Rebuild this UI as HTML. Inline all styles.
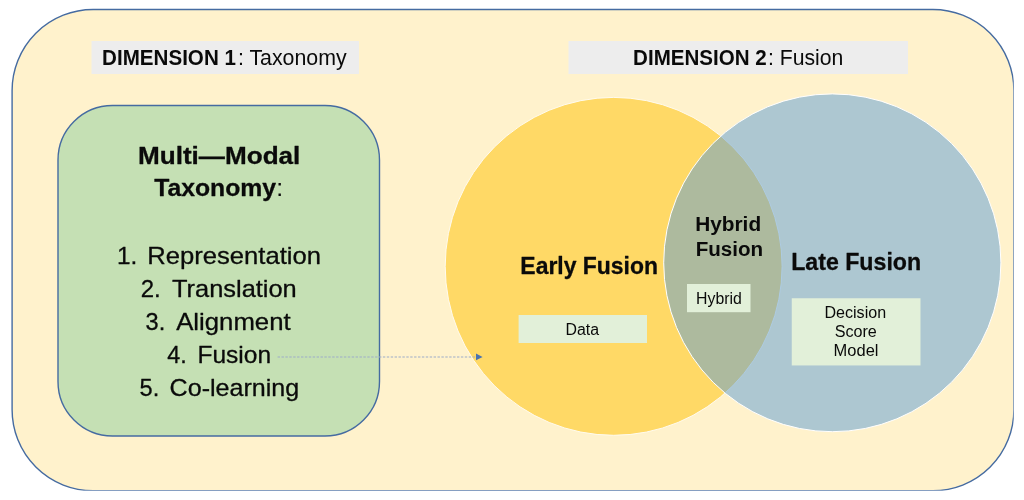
<!DOCTYPE html>
<html lang="en">
<head>
<meta charset="utf-8">
<title>Multi-Modal Taxonomy and Fusion</title>
<style>
html,body{margin:0;padding:0;background:#ffffff;}
body{width:1024px;height:500px;overflow:hidden;}
svg{display:block;font-family:"Liberation Sans",sans-serif;}
svg text{fill:#0a0a0a;white-space:pre;}
svg{will-change:transform;}
svg text.cal{stroke:#0a0a0a;stroke-width:0.3px;stroke-linejoin:round;}
</style>
</head>
<body>
<svg width="1024" height="500" viewBox="0 0 1024 500" role="img" aria-label="Dimension 1: Taxonomy and Dimension 2: Fusion diagram">
<rect x="12.1" y="9.5" width="1001.8" height="481.3" rx="81" ry="81" fill="#fff2cc" stroke="#456ba1" stroke-width="1.4"/>
<rect x="1013.75" y="0" width="11" height="500" fill="#ffffff"/>
<rect x="0" y="490.65" width="1024" height="10" fill="#ffffff"/>
<rect x="91.5" y="41" width="267.5" height="33" fill="#ededed"/>
<rect x="568.5" y="41" width="339.5" height="33" fill="#ededed"/>
<rect x="58" y="105.5" width="321.5" height="330.5" rx="54.5" ry="54.5" fill="#c5e0b4" stroke="#456ba1" stroke-width="1.4"/>
<ellipse cx="613.65" cy="266.35" rx="168.45" ry="168.95" fill="#ffd966" stroke="#fffbee" stroke-width="1"/>
<ellipse cx="832.3" cy="262.8" rx="168.6" ry="168.9" fill="#5b9bd5" fill-opacity="0.5" stroke="#ffffff" stroke-width="1"/>
<line x1="277.6" y1="357" x2="476" y2="357" stroke="#9dacc7" stroke-width="1.2" stroke-dasharray="2.4 1.5"/>
<path d="M476 353.5 L482.6 356.9 L476 360.3 Z" fill="#4a72b0"/>
<rect x="518.6" y="315" width="128.4" height="28" fill="#e2f0d9"/>
<rect x="687" y="284" width="63.5" height="28.2" fill="#e2f0d9"/>
<rect x="791.75" y="298.25" width="128.75" height="67.2" fill="#e2f0d9"/>
<g class="labels">
<text y="65" font-size="21.33"><tspan x="102.11" font-weight="bold" textLength="133.80" lengthAdjust="spacingAndGlyphs">DIMENSION 1</tspan><tspan x="237.94" textLength="108.66" lengthAdjust="spacingAndGlyphs">: Taxonomy</tspan></text>
<text y="65" font-size="21.33"><tspan x="633.12" font-weight="bold" textLength="133.60" lengthAdjust="spacingAndGlyphs">DIMENSION 2</tspan><tspan x="768.05" textLength="75.34" lengthAdjust="spacingAndGlyphs">: Fusion</tspan></text>
<text y="164" font-size="24" class="cal"><tspan x="137.97" font-weight="bold" textLength="162.37" lengthAdjust="spacingAndGlyphs">Multi—Modal</tspan></text>
<text y="196" font-size="24" class="cal"><tspan x="154.20" font-weight="bold" textLength="121.94" lengthAdjust="spacingAndGlyphs">Taxonomy</tspan><tspan x="276.37" stroke="none" textLength="6.86" lengthAdjust="spacingAndGlyphs">:</tspan></text>
<text y="264" font-size="24" class="cal"><tspan x="116.98" textLength="20.32" lengthAdjust="spacingAndGlyphs">1.</tspan> <tspan x="147.30" textLength="173.74" lengthAdjust="spacingAndGlyphs">Representation</tspan></text>
<text y="297" font-size="24" class="cal"><tspan x="140.78" textLength="19.99" lengthAdjust="spacingAndGlyphs">2.</tspan> <tspan x="172.00" textLength="124.72" lengthAdjust="spacingAndGlyphs">Translation</tspan></text>
<text y="330" font-size="24" class="cal"><tspan x="145.56" textLength="19.67" lengthAdjust="spacingAndGlyphs">3.</tspan> <tspan x="176.20" textLength="114.41" lengthAdjust="spacingAndGlyphs">Alignment</tspan></text>
<text y="363" font-size="24" class="cal"><tspan x="167.24" textLength="19.47" lengthAdjust="spacingAndGlyphs">4.</tspan> <tspan x="197.48" textLength="73.59" lengthAdjust="spacingAndGlyphs">Fusion</tspan></text>
<text y="396" font-size="24" class="cal"><tspan x="139.56" textLength="19.67" lengthAdjust="spacingAndGlyphs">5.</tspan> <tspan x="169.63" textLength="129.48" lengthAdjust="spacingAndGlyphs">Co-learning</tspan></text>
<text y="274" font-size="24" class="cal"><tspan x="520.37" font-weight="bold" textLength="137.54" lengthAdjust="spacingAndGlyphs">Early Fusion</tspan></text>
<text y="270" font-size="24" class="cal"><tspan x="791.15" font-weight="bold" textLength="129.97" lengthAdjust="spacingAndGlyphs">Late Fusion</tspan></text>
<text y="231" font-size="19.5"><tspan x="695.20" font-weight="bold" textLength="65.93" lengthAdjust="spacingAndGlyphs">Hybrid</tspan></text>
<text y="256" font-size="19.5"><tspan x="695.71" font-weight="bold" textLength="67.48" lengthAdjust="spacingAndGlyphs">Fusion</tspan></text>
<text y="335" font-size="16"><tspan x="565.56" textLength="33.54" lengthAdjust="spacingAndGlyphs">Data</tspan></text>
<text y="304" font-size="16"><tspan x="696.06" textLength="45.72" lengthAdjust="spacingAndGlyphs">Hybrid</tspan></text>
<text y="318" font-size="16"><tspan x="824.44" textLength="61.66" lengthAdjust="spacingAndGlyphs">Decision</tspan></text>
<text y="337" font-size="16"><tspan x="834.70" textLength="42.16" lengthAdjust="spacingAndGlyphs">Score</tspan></text>
<text y="356" font-size="16"><tspan x="833.61" textLength="44.87" lengthAdjust="spacingAndGlyphs">Model</tspan></text>
</g>
</svg>
</body>
</html>
